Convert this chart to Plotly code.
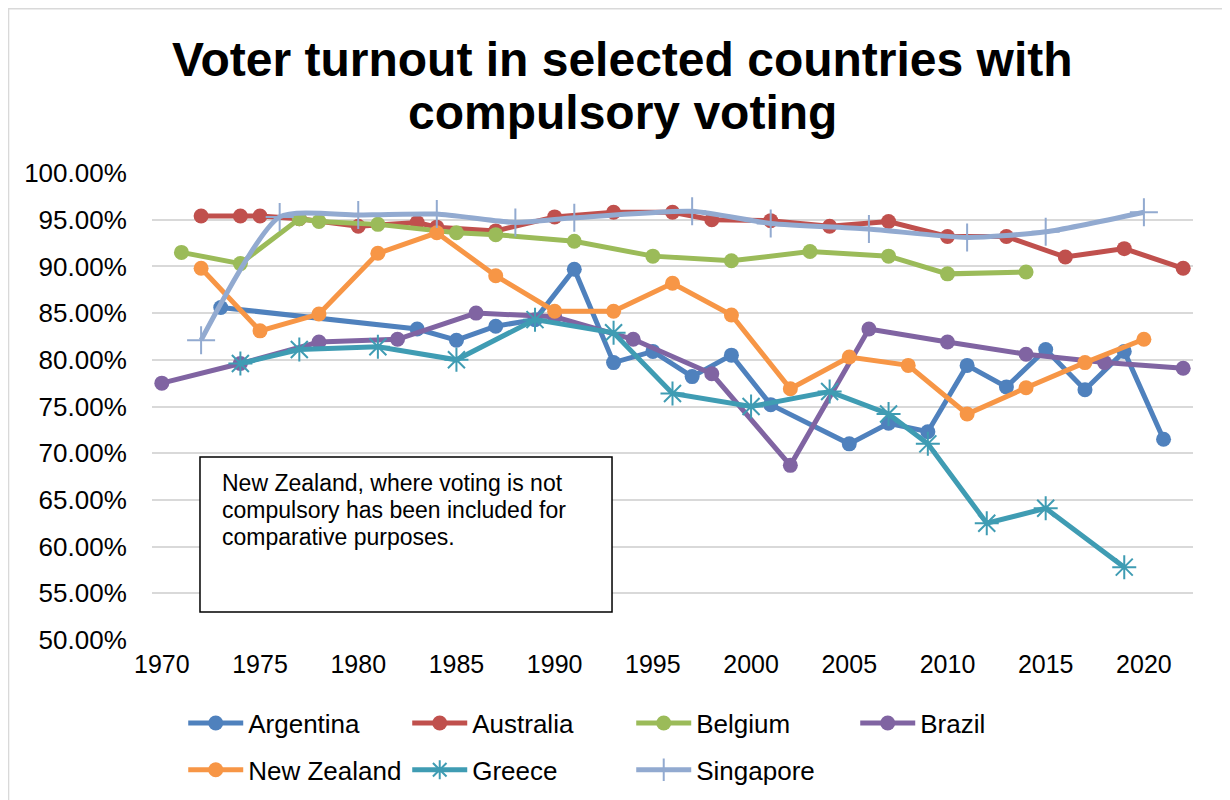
import plotly.graph_objects as go

# election years and turnout (%)
argentina_years = [1973, 1983, 1985, 1987, 1989, 1991, 1993, 1995, 1997, 1999, 2001,
                   2005, 2007, 2009, 2011, 2013, 2015, 2017, 2019, 2021]
argentina = [85.6, 83.3, 82.1, 83.6, 84.3, 89.7, 79.7, 80.9, 78.2, 80.5, 75.2,
             71.0, 73.2, 72.3, 79.4, 77.1, 81.1, 76.8, 80.9, 71.5]

australia_years = [1972, 1974, 1975, 1977, 1980, 1983, 1984, 1987, 1990, 1993, 1996,
                   1998, 2001, 2004, 2007, 2010, 2013, 2016, 2019, 2022]
australia = [95.4, 95.4, 95.4, 95.1, 94.3, 94.7, 94.2, 93.8, 95.3, 95.8, 95.8,
             95.0, 94.9, 94.3, 94.8, 93.2, 93.2, 91.0, 91.9, 89.8]

belgium_years = [1971, 1974, 1977, 1978, 1981, 1985, 1987, 1991, 1995, 1999, 2003,
                 2007, 2010, 2014]
belgium = [91.5, 90.3, 95.1, 94.8, 94.5, 93.6, 93.4, 92.7, 91.1, 90.6, 91.6,
           91.1, 89.2, 89.4]

brazil_years = [1970, 1974, 1978, 1982, 1986, 1990, 1994, 1998, 2002, 2006, 2010,
                2014, 2018, 2022]
brazil = [77.5, 79.6, 81.9, 82.2, 85.0, 84.6, 82.2, 78.5, 68.7, 83.3, 81.9,
          80.6, 79.7, 79.1]

nz_years = [1972, 1975, 1978, 1981, 1984, 1987, 1990, 1993, 1996, 1999, 2002,
            2005, 2008, 2011, 2014, 2017, 2020]
new_zealand = [89.8, 83.1, 84.9, 91.4, 93.6, 89.0, 85.2, 85.2, 88.2, 84.8, 76.9,
               80.3, 79.4, 74.2, 77.0, 79.7, 82.2]

greece_years = [1974, 1977, 1981, 1985, 1989, 1993, 1996, 2000, 2004, 2007, 2009,
                2012, 2015, 2019]
greece = [79.6, 81.1, 81.4, 80.0, 84.3, 82.9, 76.4, 75.0, 76.6, 74.2, 71.0,
          62.5, 64.1, 57.8]

singapore_years = [1972, 1976, 1980, 1984, 1988, 1991, 1997, 2001, 2006, 2011, 2015, 2020]
singapore = [82.1, 95.3, 95.5, 95.6, 94.7, 95.2, 95.9, 94.6, 94.0, 93.1, 93.7, 95.8]

FONT = "Liberation Sans, Arial, sans-serif"

series = [
    ("Argentina", argentina_years, argentina, "#4F81BD", "circle", "legend"),
    ("Australia", australia_years, australia, "#C0504D", "circle", "legend"),
    ("Belgium", belgium_years, belgium, "#9BBB59", "circle", "legend"),
    ("Brazil", brazil_years, brazil, "#8064A2", "circle", "legend"),
    ("New Zealand", nz_years, new_zealand, "#F79646", "circle", "legend2"),
    ("Greece", greece_years, greece, "#3F9CB3", "asterisk-open", "legend2"),
    ("Singapore", singapore_years, singapore, "#92AAD0", "cross-thin-open", "legend2"),
]

fig = go.Figure()
for name, xs, ys, col, sym, leg in series:
    star = sym != "circle"
    fig.add_trace(go.Scatter(
        x=xs, y=ys, name=name, mode="lines+markers", legend=leg,
        line=dict(color=col, width=5,
                  shape="spline" if name == "Singapore" else "linear",
                  smoothing=0.6),
        marker=dict(symbol=sym, color=col, size=20 if star else 15,
                    line=dict(color=col, width=2 if star else 0)),
    ))

fig.update_layout(
    width=1222, height=792,
    margin=dict(l=144, r=37, t=165, b=160, autoexpand=False),
    paper_bgcolor="white", plot_bgcolor="white",
    font=dict(family=FONT, color="black"),
    xaxis=dict(range=[1969.5, 2022.5], tick0=1970, dtick=5, showgrid=False,
               zeroline=False, showline=False, tickfont=dict(size=25),
               ticks="outside", ticklen=2, tickcolor="rgba(0,0,0,0)"),
    yaxis=dict(range=[50, 100], dtick=5, tickformat=".2f", ticksuffix="%",
               gridcolor="#D9D9D9", gridwidth=2, zeroline=False, showline=False,
               tickfont=dict(size=26), ticks="outside", ticklen=19,
               tickcolor="rgba(0,0,0,0)"),
    legend=dict(orientation="h", x=0.03, xanchor="left", y=-0.178, yanchor="middle",
                font=dict(size=26), itemwidth=55, entrywidth=154,
                bgcolor="rgba(0,0,0,0)"),
    legend2=dict(orientation="h", x=0.03, xanchor="left", y=-0.278, yanchor="middle",
                 font=dict(size=26), itemwidth=55, entrywidth=154,
                 bgcolor="rgba(0,0,0,0)"),
    showlegend=True,
)

# title, two lines
fig.add_annotation(text="<b>Voter turnout in selected countries with</b>", xref="paper",
                   yref="paper", x=0.452, y=1.243, xanchor="center", yanchor="middle",
                   showarrow=False, font=dict(size=48, family=FONT))
fig.add_annotation(text="<b>compulsory voting</b>", xref="paper", yref="paper",
                   x=0.452, y=1.130, xanchor="center", yanchor="middle",
                   showarrow=False, font=dict(size=48, family=FONT))

# note box
fig.add_shape(type="rect", xref="paper", yref="paper", x0=0.0461, x1=0.4419,
              y0=0.06, y1=0.392, line=dict(color="black", width=1.5),
              fillcolor="white", layer="above")
note = ["New Zealand, where voting is not", "compulsory has been included for",
        "comparative purposes."]
for i, line in enumerate(note):
    fig.add_annotation(text=line, xref="paper", yref="paper", x=0.0653,
                       y=(157 - 27 * i) / 467, xanchor="left", yanchor="middle",
                       showarrow=False, font=dict(size=23, family=FONT))

# outer chart frame (paper edge)
fig.add_shape(type="rect", xref="paper", yref="paper", x0=-0.1378, x1=1.2,
              y0=-0.5, y1=1.3515, line=dict(color="#D9D9D9", width=1.5))

fig.write_html("out.html")
